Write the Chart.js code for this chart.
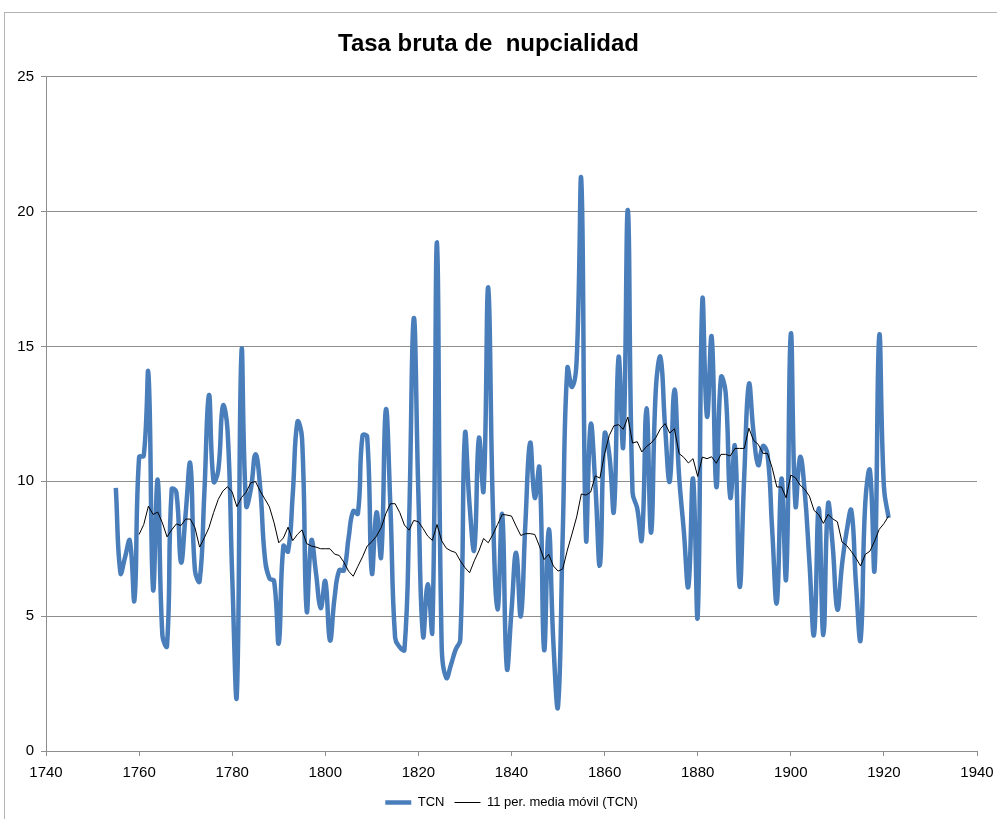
<!DOCTYPE html>
<html>
<head>
<meta charset="utf-8">
<script src="https://cdn.jsdelivr.net/npm/chart.js@4.4.1/dist/chart.umd.min.js"></script>
<style>
  html, body { margin: 0; padding: 0; background: #fff; }
  #wrap { position: relative; width: 997px; height: 819px; overflow: hidden; }
  #frame { position: absolute; left: 4px; top: 12px; width: 1100px; height: 900px;
           border-top: 1px solid #b4b4b4; border-left: 1px solid #b4b4b4; }
  #c { position: absolute; left: 0; top: 0; }
</style>
</head>
<body>
<div id="wrap">
  <div id="frame"></div>
  <canvas id="c" width="997" height="819"></canvas>
</div>
<script>
/* Tasa bruta de nupcialidad – serie anual y media móvil de 11 periodos */

const TITLE = 'Tasa bruta de  nupcialidad';
const LABEL_TCN = 'TCN';
const LABEL_MA = '11 per. media móvil (TCN)';

const X_MIN = 1740, X_MAX = 1940, X_STEP = 20;
const Y_MIN = 0, Y_MAX = 25, Y_STEP = 5;

// TCN, un valor por año desde 1755 hasta 1921
const TCN_FIRST_YEAR = 1755;
const TCN = [
  9.76, 6.6, 7.2, 7.8, 5.6, 10.9, 10.95, 14.0, 6.0, 10.05,      // 1755-1764
  4.3, 3.9, 9.7, 9.6, 7.0, 8.8, 10.65, 6.7, 6.3, 9.5,           // 1765-1774
  13.2, 10.0, 10.4, 12.8, 11.9, 6.5, 2.1, 14.8, 9.1, 9.7,       // 1775-1784
  11.0, 9.8, 7.2, 6.4, 6.3, 4.0, 7.6, 7.4, 9.5, 12.2,           // 1785-1794
  11.6, 5.2, 7.8, 6.6, 5.3, 6.3, 4.1, 5.7, 6.7, 6.7,            // 1795-1804
  7.9, 8.9, 8.8, 11.7, 11.65, 6.6, 8.85, 7.2, 12.65, 9.0,       // 1805-1814
  4.2, 3.85, 3.75, 8.5, 16.05, 9.5, 4.26, 6.18, 4.44, 18.86,    // 1815-1824
  3.9, 2.71, 3.2, 3.76, 4.13, 11.74, 9.1, 7.47, 11.6, 9.66,     // 1825-1834
  17.19, 9.0, 5.25, 8.77, 3.08, 5.2, 7.35, 5.0, 8.5, 11.43,     // 1835-1844
  9.39, 10.5, 3.76, 8.22, 4.0, 1.66, 8.0, 14.2, 13.5, 14.5,     // 1845-1854
  21.15, 7.9, 12.1, 9.9, 6.9, 11.75, 11.0, 8.9, 14.6, 11.3,     // 1855-1864
  20.05, 9.6, 9.0, 7.84, 12.7, 8.1, 13.4, 14.6, 12.0, 10.0,     // 1865-1874
  13.4, 10.2, 8.2, 6.1, 10.1, 5.0, 16.7, 12.4, 15.36, 9.8,      // 1875-1884
  13.85, 13.3, 9.4, 11.3, 6.1, 10.2, 13.6, 11.8, 10.6, 11.3,    // 1885-1894
  11.0, 8.2, 5.5, 10.1, 6.4, 15.45, 9.1, 10.9, 9.6, 7.0,        // 1895-1904
  4.32, 9.0, 4.3, 9.15, 7.6, 5.25, 6.9, 8.15, 8.92, 6.2,        // 1905-1914
  4.13, 9.2, 10.4, 6.73, 15.4, 9.8, 8.65                        // 1915-1921
];

// media móvil, 1760-1921
const MA_FIRST_YEAR = 1760;
const MA = [
  8.03, 8.4, 9.08, 8.77, 8.86, 8.46, 7.94, 8.2, 8.42, 8.36,     // 1760-1769
  8.6, 8.6, 8.28, 7.56, 7.9, 8.28, 8.84, 9.33, 9.64, 9.8,       // 1770-1779
  9.6, 9.06, 9.4, 9.6, 9.95, 9.99, 9.64, 9.35, 9.05, 8.46,      // 1780-1789
  7.72, 7.9, 8.3, 7.8, 8.03, 8.2, 7.69, 7.6, 7.56, 7.5,         // 1790-1799
  7.5, 7.5, 7.3, 7.25, 7.0, 6.67, 6.48, 6.85, 7.2, 7.6,         // 1800-1809
  7.76, 7.97, 8.28, 8.8, 9.17, 9.17, 8.84, 8.38, 8.19, 8.55,    // 1810-1819
  8.5, 8.25, 7.97, 7.81, 8.4, 7.79, 7.52, 7.42, 7.36, 7.05,     // 1820-1829
  6.8, 6.61, 7.05, 7.42, 7.88, 7.72, 8.03, 8.4, 8.77, 8.75,     // 1830-1839
  8.71, 8.34, 7.99, 8.06, 8.06, 8.03, 7.6, 7.1, 7.29, 6.86,     // 1840-1849
  6.67, 6.75, 7.45, 8.05, 8.68, 9.53, 9.49, 9.6, 10.2, 10.12,   // 1850-1859
  11.03, 11.7, 12.06, 12.1, 11.93, 12.38, 11.42, 11.47, 11.09, 11.29, // 1860-1869
  11.42, 11.62, 11.95, 12.14, 11.79, 11.95, 11.03, 10.89, 10.68, 10.84, // 1870-1879
  10.18, 10.9, 10.84, 10.91, 10.67, 11.0, 11.0, 10.94, 11.22, 11.22,   // 1880-1889
  11.22, 11.97, 11.52, 11.37, 11.04, 11.03, 10.5, 9.79, 9.79, 9.39,    // 1890-1899
  10.23, 10.13, 9.86, 9.7, 9.45, 8.92, 8.77, 8.44, 8.77, 8.61,  // 1900-1909
  8.5, 7.75, 7.62, 7.4, 7.15, 6.86, 7.29, 7.41, 7.78, 8.22,     // 1910-1919
  8.43, 8.71                                                    // 1920-1921
];

const BLUE = '#4a7ebb';
const GRID = '#8e8e8e';
const FONT = '"Liberation Sans", Arial, sans-serif';

const toPoints = (first, vals) => vals.map((v, i) => ({ x: first + i, y: v }));

new Chart(document.getElementById('c'), {
  type: 'line',
  data: {
    datasets: [
      {
        label: LABEL_TCN,
        data: toPoints(TCN_FIRST_YEAR, TCN),
        borderColor: BLUE,
        backgroundColor: BLUE,
        borderWidth: 4.5,
        pointRadius: 0,
        tension: 0.45,
        order: 1,
      },
      {
        label: LABEL_MA,
        data: toPoints(MA_FIRST_YEAR, MA),
        borderColor: '#000',
        backgroundColor: '#000',
        borderWidth: 1,
        pointRadius: 0,
        tension: 0,
        order: 0,
      }
    ]
  },
  options: {
    responsive: false,
    animation: false,
    devicePixelRatio: 1,
    layout: { padding: { left: 0, right: 20, top: 0, bottom: 0 } },
    plugins: {
      title: {
        display: true,
        text: TITLE,
        color: '#000',
        font: { family: FONT, size: 24, weight: 'bold' },
        padding: { top: 30, bottom: 18 },
      },
      legend: {
        position: 'bottom',
        fullSize: false,
        labels: {
          usePointStyle: true,
          pointStyle: 'line',
          pointStyleWidth: 26,
          color: '#000',
          padding: 10,
          font: { family: FONT, size: 13 },
          sort: (a, b) => a.datasetIndex - b.datasetIndex,
        }
      },
      tooltip: { enabled: false },
    },
    scales: {
      x: {
        type: 'linear',
        min: X_MIN, max: X_MAX,
        ticks: { stepSize: X_STEP, color: '#000', padding: 8, font: { family: FONT, size: 15 },
                 callback: (v) => String(v) },
        grid: { drawOnChartArea: false, drawTicks: true, tickLength: 5, color: GRID },
        border: { color: GRID },
        afterFit: (s) => { s.height = 35; s.paddingRight = 4; s.paddingLeft = 0; },
      },
      y: {
        min: Y_MIN, max: Y_MAX,
        ticks: { stepSize: Y_STEP, color: '#000', padding: 7, font: { family: FONT, size: 15 } },
        grid: { color: GRID, tickLength: 5 },
        border: { color: GRID },
        afterFit: (s) => { s.width = 46; },
      }
    }
  }
});
</script>
</body>
</html>
